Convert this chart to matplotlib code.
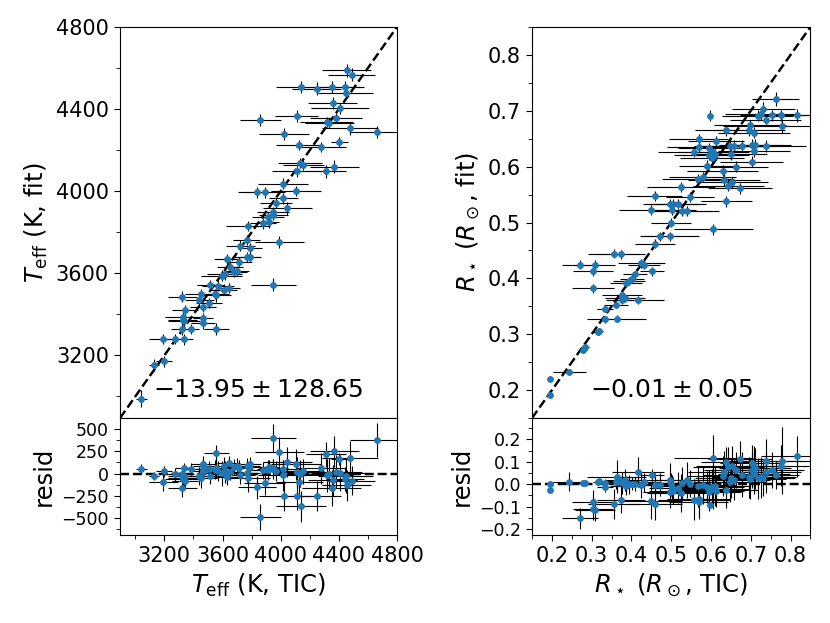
import numpy as np
import matplotlib
matplotlib.use("Agg")
import matplotlib.pyplot as plt
from matplotlib.ticker import MultipleLocator

# Teff: TIC value, fitted value, and their errors (K)
teff_tic = [3042, 3127, 3198, 3191, 3271, 3335, 3324, 3381, 3324, 3340,
            3331, 3335, 3326, 3466, 3466, 3450, 3439, 3466, 3505, 3517,
            3558, 3558, 3570, 3609, 3643, 3593, 3616, 3632, 3650, 3700,
            3714, 3723, 3765, 3776, 3765, 3792, 3792, 3880, 3921, 3914,
            3948, 3948, 3990, 3948, 3967, 4017, 4045, 3838, 3891, 4017,
            4105, 4109, 4132, 4155, 4311, 4369, 4128, 4277, 4403, 4024,
            3861, 4109, 4316, 4334, 4380, 4477, 4665, 4357, 4408, 4139,
            4247, 4350, 4442, 4447, 4454, 4488, 3545, 3680]
teff_fit = [2990, 3152, 3171, 3281, 3281, 3278, 3330, 3330, 3487, 3422,
            3387, 3366, 3372, 3382, 3359, 3497, 3468, 3435, 3456, 3544,
            3492, 3330, 3540, 3521, 3527, 3589, 3597, 3670, 3633, 3613,
            3654, 3735, 3764, 3829, 3678, 3681, 3722, 3843, 3848, 3872,
            3897, 3884, 3751, 3545, 3942, 3965, 3916, 3994, 3994, 4037,
            4002, 4096, 4136, 4128, 4096, 4120, 4225, 4217, 4241, 4277,
            4347, 4366, 4337, 4334, 4358, 4306, 4290, 4431, 4403, 4509,
            4500, 4507, 4507, 4479, 4588, 4568, 3500, 3605]
teff_tic_err = [40, 35, 55, 100, 70, 60, 80, 60, 100, 90,
                130, 110, 100, 70, 80, 110, 100, 90, 90, 90,
                100, 85, 110, 90, 80, 140, 120, 90, 90, 80,
                90, 100, 90, 150, 90, 70, 80, 90, 70, 110,
                110, 100, 170, 155, 110, 100, 170, 130, 140, 170,
                170, 170, 150, 140, 140, 170, 160, 170, 60, 170,
                140, 150, 180, 170, 180, 190, 190, 170, 200, 170,
                170, 200, 130, 190, 170, 160, 100, 90]
teff_fit_err = [40, 30, 25, 25, 25, 25, 30, 25, 25, 25,
                25, 25, 25, 25, 30, 25, 25, 25, 25, 25,
                30, 30, 25, 25, 25, 25, 30, 25, 25, 25,
                25, 25, 25, 25, 25, 25, 25, 25, 25, 25,
                25, 25, 30, 30, 25, 25, 30, 25, 25, 25,
                25, 25, 25, 25, 30, 30, 25, 25, 25, 30,
                30, 30, 25, 25, 25, 30, 30, 30, 25, 30,
                30, 30, 30, 25, 30, 30, 25, 25]

# Radius: TIC value, fitted value, and errors (R_sun)
rad_tic = [0.194, 0.194, 0.244, 0.278, 0.282, 0.315, 0.318, 0.333, 0.3625, 0.333,
           0.361, 0.377, 0.377, 0.383, 0.417, 0.386, 0.394, 0.402, 0.408, 0.425,
           0.432, 0.452, 0.271, 0.308, 0.304, 0.303, 0.356, 0.373, 0.460, 0.4725,
           0.496, 0.500, 0.448, 0.458, 0.498, 0.504, 0.518, 0.503, 0.5275, 0.540,
           0.525, 0.548, 0.568, 0.579, 0.606, 0.590, 0.558, 0.569, 0.569, 0.596,
           0.596, 0.606, 0.611, 0.603, 0.6125, 0.598, 0.629, 0.632, 0.639, 0.644,
           0.6525, 0.6625, 0.639, 0.648, 0.650, 0.658, 0.679, 0.673, 0.698, 0.696,
           0.708, 0.708, 0.702, 0.702, 0.710, 0.717, 0.725, 0.732, 0.7375, 0.739,
           0.754, 0.7625, 0.775, 0.779, 0.817]
rad_fit = [0.220, 0.192, 0.232, 0.272, 0.278, 0.304, 0.305, 0.327, 0.328, 0.345,
           0.353, 0.371, 0.362, 0.365, 0.361, 0.392, 0.395, 0.399, 0.407, 0.427,
           0.424, 0.413, 0.424, 0.424, 0.413, 0.382, 0.444, 0.443, 0.462, 0.475,
           0.475, 0.500, 0.522, 0.547, 0.533, 0.533, 0.533, 0.522, 0.521, 0.521,
           0.563, 0.546, 0.578, 0.581, 0.488, 0.602, 0.627, 0.636, 0.649, 0.633,
           0.621, 0.627, 0.621, 0.616, 0.645, 0.691, 0.593, 0.576, 0.538, 0.566,
           0.572, 0.600, 0.665, 0.637, 0.622, 0.637, 0.637, 0.561, 0.674, 0.665,
           0.661, 0.628, 0.609, 0.639, 0.639, 0.691, 0.694, 0.704, 0.684, 0.637,
           0.692, 0.721, 0.692, 0.673, 0.692]
rad_tic_err = [0.003, 0.003, 0.042, 0.010, 0.010, 0.012, 0.010, 0.015, 0.075, 0.020,
               0.030, 0.050, 0.040, 0.050, 0.066, 0.040, 0.040, 0.030, 0.030, 0.060,
               0.040, 0.030, 0.045, 0.050, 0.050, 0.053, 0.065, 0.060, 0.050, 0.050,
               0.073, 0.050, 0.080, 0.070, 0.070, 0.060, 0.070, 0.060, 0.070, 0.080,
               0.085, 0.060, 0.090, 0.085, 0.100, 0.070, 0.090, 0.080, 0.075, 0.080,
               0.090, 0.090, 0.085, 0.080, 0.070, 0.004, 0.090, 0.090, 0.065, 0.090,
               0.090, 0.080, 0.080, 0.090, 0.090, 0.090, 0.100, 0.080, 0.090, 0.090,
               0.090, 0.090, 0.080, 0.080, 0.090, 0.090, 0.090, 0.080, 0.090, 0.100,
               0.080, 0.060, 0.090, 0.150, 0.090]
rad_fit_err = [0.005, 0.005, 0.005, 0.006, 0.006, 0.006, 0.006, 0.006, 0.006, 0.006,
               0.006, 0.007, 0.007, 0.007, 0.007, 0.007, 0.007, 0.007, 0.007, 0.008,
               0.008, 0.008, 0.008, 0.008, 0.008, 0.008, 0.008, 0.008, 0.008, 0.008,
               0.008, 0.008, 0.009, 0.009, 0.009, 0.009, 0.009, 0.009, 0.009, 0.009,
               0.009, 0.009, 0.009, 0.009, 0.010, 0.010, 0.010, 0.010, 0.010, 0.010,
               0.010, 0.010, 0.010, 0.010, 0.010, 0.010, 0.010, 0.010, 0.010, 0.010,
               0.010, 0.010, 0.010, 0.010, 0.010, 0.010, 0.010, 0.010, 0.010, 0.010,
               0.010, 0.010, 0.010, 0.010, 0.010, 0.010, 0.010, 0.012, 0.010, 0.010,
               0.010, 0.012, 0.010, 0.012, 0.012]

teff_summary = r"$-13.95 \pm 128.65$"
rad_summary = r"$-0.01 \pm 0.05$"

TICK_FS = 15
LABEL_FS = 17.5

fig = plt.figure(figsize=(8.3, 6.23), dpi=100)


def panel(left, width, tic, fit, tic_err, fit_err, lims, resid_lims,
          major, minor, rmajor, rminor, xlabel, ylabel, summary):
    tic = np.asarray(tic)
    fit = np.asarray(fit)
    tic_err = np.asarray(tic_err)
    fit_err = np.asarray(fit_err)

    ax = fig.add_axes([left, 0.329, width, 0.6277])
    axr = fig.add_axes([left, 0.1413, width, 0.1877], sharex=ax)

    eb = dict(fmt="o", color="C0", ms=3.9, ecolor="k", elinewidth=0.8,
              capsize=0)
    ax.errorbar(tic, fit, xerr=tic_err, yerr=fit_err, **eb)
    ax.plot(lims, lims, "k--", lw=1.75)
    ax.set_xlim(lims)
    ax.set_ylim(lims)
    ax.set_ylabel(ylabel, fontsize=LABEL_FS)
    ax.text(0.5, 0.04, summary, transform=ax.transAxes, ha="center",
            va="bottom", fontsize=18)
    ax.yaxis.set_major_locator(MultipleLocator(major))
    ax.yaxis.set_minor_locator(MultipleLocator(minor))
    ax.xaxis.set_major_locator(MultipleLocator(major))
    ax.xaxis.set_minor_locator(MultipleLocator(minor))
    ax.tick_params(axis="y", labelsize=TICK_FS)
    ax.tick_params(axis="x", labelbottom=False)

    # residual = TIC - fit, error from both
    resid = tic - fit
    resid_err = np.hypot(tic_err, fit_err)
    axr.errorbar(tic, resid, xerr=tic_err, yerr=resid_err, **eb)
    axr.axhline(0, color="k", ls="--", lw=1.75)
    axr.set_ylim(resid_lims)
    axr.yaxis.set_major_locator(MultipleLocator(rmajor))
    axr.yaxis.set_minor_locator(MultipleLocator(rminor))
    axr.tick_params(axis="y", labelsize=12.5)
    axr.tick_params(axis="x", labelsize=TICK_FS)
    axr.set_ylabel("resid", fontsize=LABEL_FS)
    axr.set_xlabel(xlabel, fontsize=LABEL_FS)

    for a in (ax, axr):
        a.tick_params(which="major", length=4.5)
        a.tick_params(which="minor", length=2.8)
    return ax, axr


panel(0.1446, 0.3337, teff_tic, teff_fit, teff_tic_err, teff_fit_err,
      (2895, 4800), (-690, 624), 400, 200, 250, 125,
      r"$T_{\rm eff}$ (K, TIC)", r"$T_{\rm eff}$ (K, fit)", teff_summary)

panel(0.641, 0.3354, rad_tic, rad_fit, rad_tic_err, rad_fit_err,
      (0.15, 0.85), (-0.227, 0.296), 0.1, 0.05, 0.1, 0.05,
      r"$R_\star$ ($R_\odot$, TIC)", r"$R_\star$ ($R_\odot$, fit)", rad_summary)

fig.savefig("out.png", dpi=100)
